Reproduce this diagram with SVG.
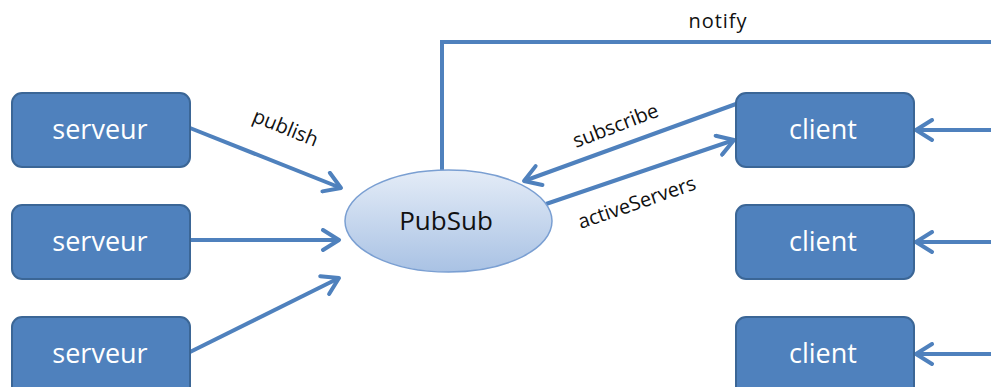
<svg xmlns="http://www.w3.org/2000/svg" width="991" height="387" viewBox="0 0 991 387">
<style>
.box{fill:#4F81BD;stroke:#3B6696;stroke-width:2}
.bt{font-family:"Open Sans","Liberation Sans",sans-serif;font-size:27px;fill:#fff;text-anchor:middle}
.ln{fill:none;stroke:#4F81BD;stroke-width:4}
.lb{font-family:"Open Sans","Liberation Sans",sans-serif;font-size:20px;fill:#111;text-anchor:middle}
</style>
<defs>
<marker id="ah" viewBox="0 0 24 24" refX="20" refY="12" markerWidth="24" markerHeight="24" markerUnits="userSpaceOnUse" orient="auto">
<path d="M4,2 L20,12 L4,22" fill="none" stroke="#4F81BD" stroke-width="4" stroke-linecap="round" stroke-linejoin="round"/>
</marker>
<linearGradient id="eg" x1="0" y1="0" x2="0" y2="1">
<stop offset="0" stop-color="#E4ECF7"/>
<stop offset="1" stop-color="#A9C2E4"/>
</linearGradient>
</defs>
<g id="connectors">
<path class="ln" d="M442,170 V42 H991"/>
<line class="ln" x1="190" y1="128" x2="341" y2="188" marker-end="url(#ah)"/>
<line class="ln" x1="190" y1="240" x2="339" y2="240" marker-end="url(#ah)"/>
<line class="ln" x1="190" y1="352" x2="339" y2="278" marker-end="url(#ah)"/>
<line class="ln" x1="758" y1="96" x2="524" y2="181" marker-end="url(#ah)"/>
<line class="ln" x1="546" y1="204" x2="734" y2="140" marker-end="url(#ah)"/>
<line class="ln" x1="991" y1="130" x2="916" y2="130" marker-end="url(#ah)"/>
<line class="ln" x1="991" y1="242" x2="916" y2="242" marker-end="url(#ah)"/>
<line class="ln" x1="991" y1="354" x2="916" y2="354" marker-end="url(#ah)"/>
<text class="lb" x="718" y="28" letter-spacing="1">notify</text>
<text class="lb" transform="translate(283,134) rotate(22)">publish</text>
<text class="lb" transform="translate(618,132) rotate(-21)">subscribe</text>
<text class="lb" transform="translate(639,209) rotate(-19)">activeServers</text>
</g>
<g id="serveur1"><rect class="box" x="12" y="93" width="178" height="74" rx="10"/><text class="bt" x="100" y="139">serveur</text></g>
<g id="serveur2"><rect class="box" x="12" y="205" width="178" height="74" rx="10"/><text class="bt" x="100" y="251">serveur</text></g>
<g id="serveur3"><rect class="box" x="12" y="317" width="178" height="84" rx="10"/><text class="bt" x="100" y="363">serveur</text></g>
<g id="pubsub"><ellipse cx="448.5" cy="221" rx="103.5" ry="51" fill="url(#eg)" stroke="#7A9FD2" stroke-width="1.5"/><text x="446" y="230" font-family="'Open Sans','Liberation Sans',sans-serif" font-size="26" fill="#111" text-anchor="middle">PubSub</text></g>
<g id="client1"><rect class="box" x="736" y="93" width="178" height="74" rx="10"/><text class="bt" x="823" y="139">client</text></g>
<g id="client2"><rect class="box" x="736" y="205" width="178" height="74" rx="10"/><text class="bt" x="823" y="251">client</text></g>
<g id="client3"><rect class="box" x="736" y="317" width="178" height="84" rx="10"/><text class="bt" x="823" y="363">client</text></g>
</svg>
